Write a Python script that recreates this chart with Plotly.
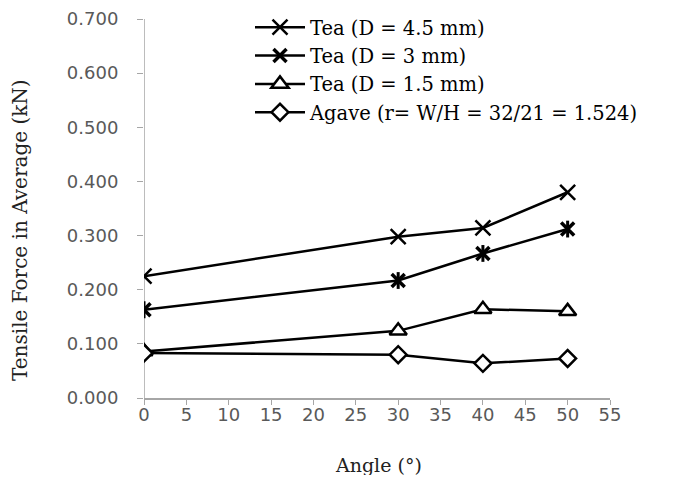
import plotly.graph_objects as go

angles = [0, 30, 40, 50]
tea_45 = [0.225, 0.298, 0.314, 0.380]
tea_3 = [0.163, 0.217, 0.267, 0.312]
tea_15 = [0.086, 0.124, 0.164, 0.160]
agave = [0.083, 0.080, 0.064, 0.073]

names = ["Tea (D = 4.5 mm)", "Tea (D = 3 mm)", "Tea (D = 1.5 mm)",
         "Agave (r= W/H = 32/21 = 1.524)"]
x_ticks = list(range(0, 60, 5))
y_ticks = [0.0, 0.1, 0.2, 0.3, 0.4, 0.5, 0.6, 0.7]
y_max = 0.7

fig = go.Figure()
line = dict(color="black", width=2.5)

fig.add_trace(go.Scatter(x=angles, y=tea_45, name=names[0], mode="lines+markers",
                         line=line,
                         marker=dict(symbol="x-thin-open", size=15, color="black",
                                     line=dict(color="black", width=2.5))))
fig.add_trace(go.Scatter(x=angles, y=tea_3, name=names[1], mode="lines+markers",
                         line=line,
                         marker=dict(symbol="x-thin-open", size=13, color="black",
                                     line=dict(color="black", width=3.5))))
fig.add_trace(go.Scatter(x=angles, y=tea_3, showlegend=False, mode="markers",
                         hoverinfo="skip",
                         marker=dict(symbol="line-ns-open", size=12, color="black",
                                     line=dict(color="black", width=3))))
fig.add_trace(go.Scatter(x=angles, y=tea_15, name=names[2], mode="lines+markers",
                         line=line,
                         marker=dict(symbol="triangle-up", size=15, color="white",
                                     line=dict(color="black", width=2.5))))
fig.add_trace(go.Scatter(x=angles, y=agave, name=names[3], mode="lines+markers",
                         line=line,
                         marker=dict(symbol="diamond", size=13, color="white",
                                     line=dict(color="black", width=2.5))))

tick_font = dict(family="DejaVu Sans", size=18, color="#595959")

# page has an 8px body margin; figure coords = screen coords - 8
W, H = 676, 467
left_px, right_px = 136, 602
top_px, zero_px, max_px = 0, 390, 11
plot_w = right_px - left_px
plot_h = zero_px - top_px
y_top = y_max * (zero_px - top_px) / (zero_px - max_px)

fig.add_shape(type="line", xref="x", yref="y", x0=0, x1=0, y0=0, y1=y_max,
              line=dict(color="#a6a6a6", width=1.5), layer="below")

fig.update_layout(
    width=W, height=H,
    margin=dict(l=left_px, r=W - right_px, t=top_px, b=H - zero_px, pad=0),
    paper_bgcolor="white", plot_bgcolor="white",
    showlegend=True,
    legend=dict(x=(242 - left_px) / plot_w, y=1.0, xanchor="left", yanchor="top",
                font=dict(family="DejaVu Serif", size=19.5, color="black"),
                bgcolor="rgba(0,0,0,0)", itemwidth=50,
                tracegroupgap=0),
    xaxis=dict(range=[0, 55], tickvals=x_ticks, ticktext=[str(v) for v in x_ticks],
               showgrid=False, zeroline=False, showline=True, automargin=False,
               linecolor="#a6a6a6", linewidth=1.5,
               ticks="outside", ticklen=5, tickcolor="#a6a6a6",
               tickfont=tick_font, ticklabelstandoff=-5),
    yaxis=dict(range=[0, y_top], tickvals=y_ticks, automargin=False,
               ticktext=["%.3f" % v for v in y_ticks],
               showgrid=False, zeroline=False, showline=False,
               ticks="outside", ticklen=6, tickcolor="#a6a6a6",
               tickfont=tick_font, ticklabelstandoff=15),
    annotations=[
        dict(text="Angle (°)", xref="paper", yref="paper", x=(370 - left_px) / plot_w,
             y=-67 / plot_h,
             xanchor="center", yanchor="middle", showarrow=False,
             font=dict(family="DejaVu Serif", size=19, color="#222")),
        dict(text="Tensile Force in Average (kN)", xref="paper", yref="paper",
             x=(12 - left_px) / plot_w, y=(zero_px - 222) / plot_h,
             xanchor="center", yanchor="middle",
             showarrow=False, textangle=-90,
             font=dict(family="DejaVu Serif", size=20, color="#222")),
    ],
)

fig.write_html("out.html")
